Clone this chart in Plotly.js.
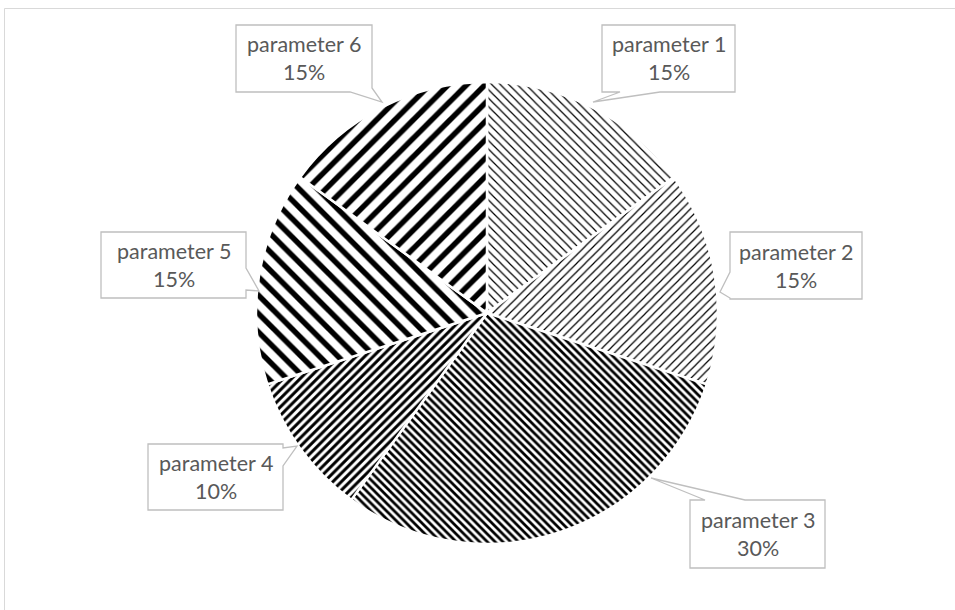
<!DOCTYPE html>
<html>
<head>
<meta charset="utf-8">
<script src="https://cdn.plot.ly/plotly-3.0.1.min.js"></script>
<style>
  html, body { margin: 0; padding: 0; background: #ffffff; }
  #chart { width: 955px; height: 610px; }
</style>
</head>
<body>
<div id="chart"></div>
<script>
// Slice data
const labels = ['parameter 1', 'parameter 2', 'parameter 3', 'parameter 4', 'parameter 5', 'parameter 6'];
const values = [15, 15, 30, 10, 15, 15];

// Hatch fill per slice
const hatchShapes = ['\\', '/', '\\', '/', '\\', '/'];
const hatchSizes = [6, 6, 5.5, 6, 13, 13];
const hatchSolidity = [0.2, 0.2, 0.5, 0.5, 0.42, 0.42];

// Plot geometry (pixels)
const W = 955, H = 610;
const M = { l: 256, r: 237, t: 82, b: 66 };
const PW = W - M.l - M.r, PH = H - M.t - M.b;
const px = x => (x - M.l) / PW;
const py = y => 1 - (y - M.t) / PH;

// Callout boxes: [x0, y0, x1, y1] and tail polygon [base A, tip, base B], in pixels
const callouts = [
  { box: [602, 25, 735, 92], tail: [[620, 92], [593, 102], [660, 92]], side: 'bottom' },
  { box: [730, 232, 862, 299], tail: [[730, 272], [720, 292], [730, 298]], side: 'left' },
  { box: [690, 500, 825, 568], tail: [[705, 500], [651, 478], [745, 500]], side: 'top' },
  { box: [148, 444, 283, 510], tail: [[283, 448], [297, 446], [283, 466]], side: 'right' },
  { box: [101, 232, 246, 298], tail: [[246, 268], [259, 291], [246, 290]], side: 'right' },
  { box: [236, 25, 372, 92], tail: [[350, 92], [382, 102], [372, 88]], side: 'bottom' }
];

function calloutPath(c) {
  const [x0, y0, x1, y1] = c.box;
  const [a, tip, b] = c.tail;
  let pts;
  if (c.side === 'bottom') {
    pts = [[x0, y0], [x1, y0], [x1, y1], [Math.max(a[0], b[0]), y1], tip, [Math.min(a[0], b[0]), y1], [x0, y1]];
    if (b[1] !== y1) pts = [[x0, y0], [x1, y0], [x1, b[1]], tip, [a[0], y1], [x0, y1]];
  } else if (c.side === 'top') {
    pts = [[x0, y0], [a[0], y0], tip, [b[0], y0], [x1, y0], [x1, y1], [x0, y1]];
  } else if (c.side === 'left') {
    pts = [[x0, y0], [x1, y0], [x1, y1], [x0, y1], [x0, b[1]], tip, [x0, a[1]]];
  } else {
    pts = [[x0, y0], [x1, y0], [x1, Math.min(a[1], b[1])], tip, [x1, Math.max(a[1], b[1])], [x1, y1], [x0, y1]];
  }
  return 'M ' + pts.map(p => px(p[0]).toFixed(5) + ',' + py(p[1]).toFixed(5)).join(' L ') + ' Z';
}

const total = values.reduce((s, v) => s + v, 0);

const shapes = [
  // chart frame
  { type: 'rect', xref: 'paper', yref: 'paper', x0: px(4.5), y0: py(8.5), x1: px(W + 5), y1: py(H + 5),
    line: { color: '#d9d9d9', width: 1 }, fillcolor: 'rgba(0,0,0,0)', layer: 'below' }
].concat(callouts.map(c => ({
  type: 'path', xref: 'paper', yref: 'paper', path: calloutPath(c),
  line: { color: '#bfbfbf', width: 1.3 }, fillcolor: '#ffffff', layer: 'above'
})));

const annotations = callouts.map((c, i) => ({
  xref: 'paper', yref: 'paper',
  x: px((c.box[0] + c.box[2]) / 2), y: py((c.box[1] + c.box[3]) / 2),
  xanchor: 'center', yanchor: 'middle', showarrow: false,
  text: labels[i] + '<br>' + Math.round(values[i] / total * 100) + '%',
  font: { family: 'Lato, "Open Sans", sans-serif', size: 21.5, color: '#595959' }
}));

const trace = {
  type: 'pie',
  labels: labels,
  values: values,
  sort: false,
  direction: 'clockwise',
  rotation: 0,
  textinfo: 'none',
  hoverinfo: 'skip',
  showlegend: false,
  marker: {
    colors: labels.map(() => '#ffffff'),
    line: { color: '#ffffff', width: 2.5 },
    pattern: {
      shape: hatchShapes,
      size: hatchSizes,
      solidity: hatchSolidity,
      fgcolor: '#000000',
      bgcolor: '#ffffff',
      fillmode: 'replace'
    }
  },
  domain: { x: [0, 1], y: [0, 1] }
};

const layout = {
  width: W, height: H,
  margin: M,
  paper_bgcolor: '#ffffff',
  plot_bgcolor: '#ffffff',
  showlegend: false,
  shapes: shapes,
  annotations: annotations
};

Plotly.newPlot('chart', [trace], layout, { displayModeBar: false, staticPlot: true });
</script>
</body>
</html>
